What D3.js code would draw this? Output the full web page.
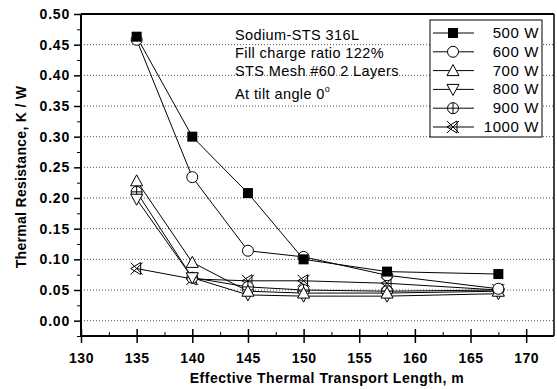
<!DOCTYPE html>
<html>
<head>
<meta charset="utf-8">
<script src="https://cdn.jsdelivr.net/npm/d3@7"></script>
<style>
  body { margin: 0; background: #fff; }
  text { font-family: "Liberation Sans", Arial, sans-serif; fill: #000; }
</style>
</head>
<body>
<div id="chart"></div>
<script>
// data
var lengths = [135, 140, 145, 150, 157.5, 167.5];
var seriesNames = ["500 W", "600 W", "700 W", "800 W", "900 W", "1000 W"];
var r500 = [0.463, 0.300, 0.208, 0.100, 0.080, 0.076];
var r600 = [0.458, 0.234, 0.114, 0.104, 0.074, 0.052];
var r700 = [0.228, 0.095, 0.048, 0.045, 0.045, 0.048];
var r800 = [0.198, 0.070, 0.042, 0.040, 0.040, 0.044];
var r900 = [0.210, 0.070, 0.055, 0.050, 0.048, 0.050];
var r1000 = [0.085, 0.068, 0.065, 0.065, 0.061, 0.050];
var xTicks = [130, 135, 140, 145, 150, 155, 160, 165, 170];
var yTicks = [0, 0.05, 0.10, 0.15, 0.20, 0.25, 0.30, 0.35, 0.40, 0.45, 0.50];
var notes = ["Sodium-STS 316L", "Fill charge ratio 122%", "STS Mesh #60 2 Layers", "At tilt angle 0"];

var allSeries = [r500, r600, r700, r800, r900, r1000];
var shapes = ["square", "circle", "up", "down", "plus", "cross"];

var W = 557, H = 389;
var svg = d3.select("#chart").append("svg").attr("width", W).attr("height", H);

var x = d3.scaleLinear().domain([130, 172.5]).range([81, 554]);
var y = d3.scaleLinear().domain([-0.025, 0.5]).range([336, 14]);

// grid
svg.append("g").selectAll("line")
    .data(yTicks.filter(function(d) { return d < 0.5; }))
    .enter().append("line")
    .attr("x1", x(130)).attr("x2", x(172.5))
    .attr("y1", function(d) { return y(d); }).attr("y2", function(d) { return y(d); })
    .attr("stroke", "#555").attr("stroke-width", 1).attr("stroke-dasharray", "1,2");

// frame
svg.append("line").attr("x1", 81).attr("x2", 554).attr("y1", 14).attr("y2", 14).attr("stroke", "#000").attr("stroke-width", 2);
svg.append("line").attr("x1", 554).attr("x2", 554).attr("y1", 14).attr("y2", 336).attr("stroke", "#000").attr("stroke-width", 1.5);

// x axis
var xAxis = d3.axisBottom(x).tickValues(xTicks).tickSize(7).tickPadding(10).tickFormat(d3.format("d"));
var gx = svg.append("g").attr("transform", "translate(0,336)").call(xAxis);
gx.selectAll(".tick line").attr("y1", -7).attr("y2", 7).attr("stroke-width", 1.5);
gx.select(".domain").attr("stroke-width", 2).attr("d", "M81,0H554");
gx.selectAll("text").attr("font-size", 14).attr("font-weight", "bold")
    .attr("font-family", "Liberation Sans, Arial, sans-serif").attr("letter-spacing", 0.5);
var gxm = svg.append("g").attr("transform", "translate(0,336)")
    .call(d3.axisTop(x).tickValues(d3.range(132.5, 172, 5)).tickSize(4).tickFormat(""));
gxm.select(".domain").remove();

// y axis
var yAxis = d3.axisLeft(y).tickValues(yTicks).tickSize(7).tickPadding(4).tickFormat(d3.format(".2f"));
var gy = svg.append("g").attr("transform", "translate(81,0)").call(yAxis);
gy.select(".domain").attr("stroke-width", 2).attr("d", "M0,336V14");
gy.selectAll(".tick line").attr("stroke-width", 1.5);
gy.selectAll("text").attr("font-size", 14).attr("font-weight", "bold")
    .attr("font-family", "Liberation Sans, Arial, sans-serif").attr("letter-spacing", 0.8);
var gym = svg.append("g").attr("transform", "translate(81,0)")
    .call(d3.axisLeft(y).tickValues(d3.range(-0.025, 0.5, 0.05)).tickSize(4).tickFormat(""));
gym.select(".domain").remove();

// axis titles
svg.append("text").attr("x", 327).attr("y", 383).attr("text-anchor", "middle")
    .attr("font-size", 14).attr("font-weight", "bold").attr("letter-spacing", 0.5)
    .text("Effective Thermal Transport Length, m");
svg.append("text").attr("transform", "translate(26,177) rotate(-90)").attr("text-anchor", "middle")
    .attr("font-size", 14).attr("font-weight", "bold").attr("letter-spacing", 0.3)
    .text("Thermal Resistance, K / W");

// marker drawing
function drawMarker(g, shape) {
    var s = 5;
    if (shape == "square") {
        g.append("rect").attr("x", -s).attr("y", -s).attr("width", 2 * s).attr("height", 2 * s).attr("fill", "#000");
    } else if (shape == "circle") {
        g.append("circle").attr("r", s + 0.5).attr("fill", "#fff").attr("stroke", "#000");
    } else if (shape == "up") {
        g.append("path").attr("d", "M0,-6L6,5L-6,5Z").attr("fill", "#fff").attr("stroke", "#000");
    } else if (shape == "down") {
        g.append("path").attr("d", "M0,6L6,-5L-6,-5Z").attr("fill", "#fff").attr("stroke", "#000");
    } else if (shape == "plus") {
        g.append("circle").attr("r", s + 0.5).attr("fill", "#fff").attr("stroke", "#000");
        g.append("path").attr("d", "M-5.5,0H5.5M0,-5.5V5.5").attr("stroke", "#000");
    } else {
        g.append("path").attr("d", "M-6,-6L6,6M-6,6L6,-6M4,-6V6M4,-6L-6,0L4,6").attr("fill", "none").attr("stroke", "#000");
    }
}

var line = d3.line()
    .x(function(d, i) { return x(lengths[i]); })
    .y(function(d) { return y(d); });

// lines (back to front so the top series sits above)
allSeries.slice().reverse().forEach(function(vals) {
    svg.append("path").datum(vals).attr("d", line)
        .attr("fill", "none").attr("stroke", "#000").attr("stroke-width", 1);
});
allSeries.slice().reverse().forEach(function(vals, k) {
    var idx = allSeries.length - 1 - k;
    vals.forEach(function(v, i) {
        var g = svg.append("g").attr("transform", "translate(" + x(lengths[i]) + "," + y(v) + ")");
        drawMarker(g, shapes[idx]);
    });
});

// annotation
var ann = svg.append("g");
notes.forEach(function(t, i) {
    var ty = [40, 58, 76, 99][i];
    var tx = ann.append("text").attr("x", 235).attr("y", ty).attr("font-size", 14.5).attr("letter-spacing", 0.4).text(t);
    if (i == 3) tx.append("tspan").attr("dy", -7).attr("font-size", 9).text("o");
});

// legend
var leg = svg.append("g");
leg.append("rect").attr("x", 430).attr("y", 20).attr("width", 112).attr("height", 117)
    .attr("fill", "#fff").attr("stroke", "#000").attr("stroke-width", 1);
seriesNames.forEach(function(name, i) {
    var ly = 33 + i * 18.8;
    leg.append("line").attr("x1", 433).attr("x2", 474).attr("y1", ly).attr("y2", ly).attr("stroke", "#000");
    var g = leg.append("g").attr("transform", "translate(453," + ly + ")");
    drawMarker(g, shapes[i]);
    leg.append("text").attr("x", 539).attr("y", ly + 5).attr("text-anchor", "end")
        .attr("font-size", 15).attr("letter-spacing", 0.6).text(name);
});
</script>
</body>
</html>
